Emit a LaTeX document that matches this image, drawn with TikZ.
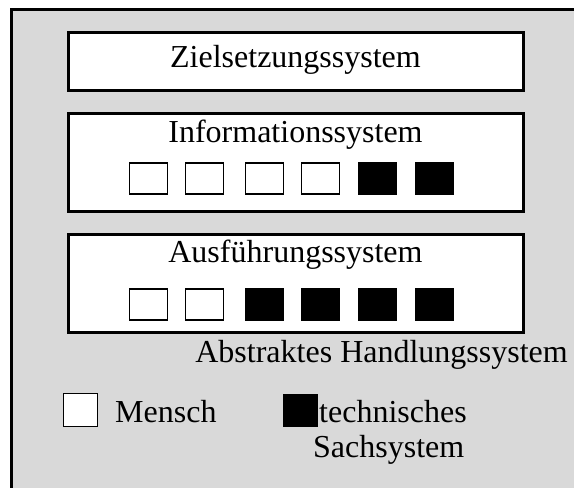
\documentclass[tikz,border=0pt]{standalone}
\usepackage{fontspec}
\setmainfont{Liberation Serif}
\definecolor{panelgray}{HTML}{D9D9D9}
\begin{document}
\begin{tikzpicture}[x=1pt,y=-1pt,
  sysbox/.style={draw,line width=3pt,fill=white,inner sep=0pt},
  cellh/.style={draw,line width=1.6pt,fill=white,inner sep=0pt,minimum width=38pt,minimum height=31pt},
  cellt/.style={draw,line width=1.6pt,fill=black,inner sep=0pt,minimum width=38pt,minimum height=31pt},
  lbl/.style={inner sep=0pt,anchor=base,font=\fontsize{32}{37}\selectfont}]
  \useasboundingbox (0,0) rectangle (574,488);
  % panel with its top and left border
  \fill[panelgray] (11.5,9.5) rectangle (574,488);
  \draw[line width=3pt] (11.5,488) -- (11.5,9.5) -- (574,9.5);
  % the three subsystems
  \node[sysbox,minimum width=455pt,minimum height=58pt] (ziel) at (295.5,61) {};
  \node[sysbox,minimum width=455pt,minimum height=98pt] (info) at (295.5,162.5) {};
  \node[sysbox,minimum width=455pt,minimum height=98pt] (ausf) at (295.5,283) {};
  \node[lbl] (tziel) at (295.5,67) {Zielsetzungssystem};
  \node[lbl] (tinfo) at (295.5,142) {Informationssystem};
  \node[lbl] (tausf) at (295.5,262) {Ausführungssystem};
  % components of the information system
  \node[cellh] (i1) at (148.5,178.5) {};
  \node[cellh] (i2) at (204.5,178.5) {};
  \node[cellh] (i3) at (264.5,178.5) {};
  \node[cellh] (i4) at (320.5,178.5) {};
  \node[cellt] (i5) at (377.5,178.5) {};
  \node[cellt] (i6) at (434.5,178.5) {};
  % components of the execution system
  \node[cellh] (a1) at (148.5,304.5) {};
  \node[cellh] (a2) at (204.5,304.5) {};
  \node[cellt] (a3) at (264.5,304.5) {};
  \node[cellt] (a4) at (320.5,304.5) {};
  \node[cellt] (a5) at (377.5,304.5) {};
  \node[cellt] (a6) at (434.5,304.5) {};
  \node[lbl,anchor=base east] (tabs) at (568,362) {Abstraktes Handlungssystem};
  % legend
  \node[draw,line width=1.6pt,fill=white,inner sep=0pt,minimum width=34pt,minimum height=33pt] (lh) at (80.5,410) {};
  \node[lbl,anchor=base west] (tmensch) at (115,422) {Mensch};
  \node[fill=black,inner sep=0pt,minimum width=35pt,minimum height=33pt] (lt) at (300.5,410.5) {};
  \node[lbl,anchor=base west] (ttech) at (319,422) {technisches};
  \node[lbl,anchor=base west] (tsach) at (313,457) {Sachsystem};
\end{tikzpicture}
\end{document}
